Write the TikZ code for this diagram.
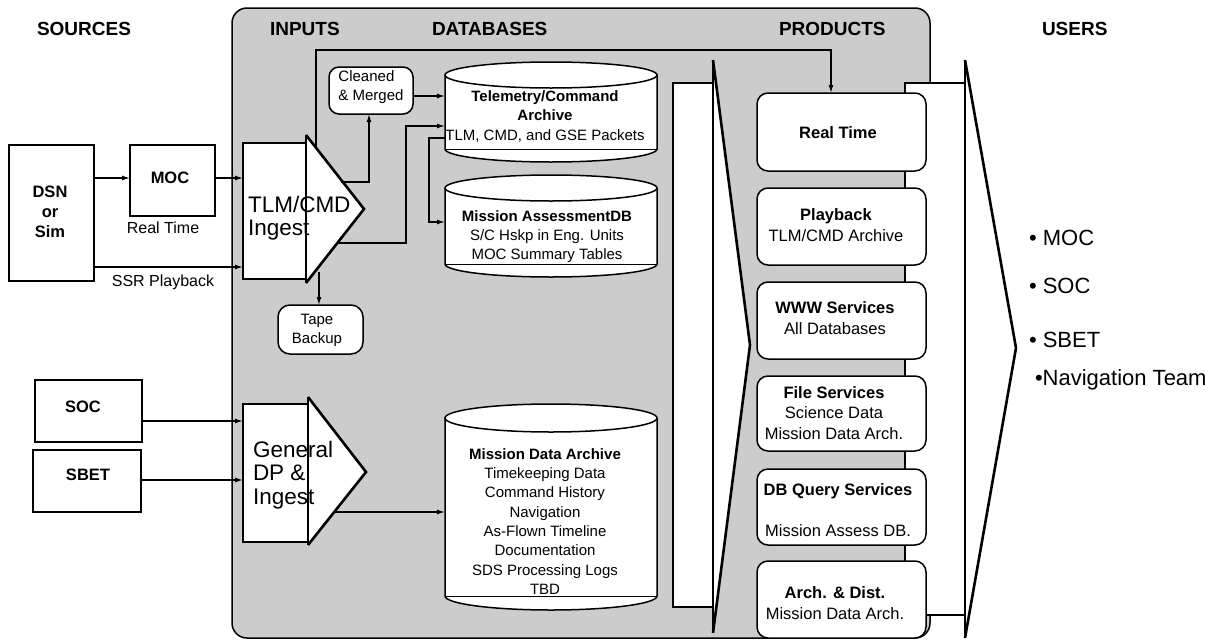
\documentclass[tikz,border=0pt]{standalone}
\usepackage{fontspec}
\setmainfont{Liberation Sans}
\usetikzlibrary{arrows.meta}
\definecolor{panelgray}{RGB}{204,204,204}
\newcommand{\cylshape}[5]{%
  \pgfmathsetmacro{\cylrx}{(#2-#1)/2}%
  \pgfmathsetmacro{\cylcx}{(#1+#2)/2}%
  \fill[white] (#1,#3) -- (#1,#4) arc[start angle=180,end angle=0,x radius=\cylrx,y radius=#5] -- (#2,#3) arc[start angle=0,end angle=-180,x radius=\cylrx,y radius=#5] -- cycle;
  \draw[line width=1.5pt] (#1,#3) -- (#1,#4) arc[start angle=180,end angle=0,x radius=\cylrx,y radius=#5] -- (#2,#3);
  \draw[line width=1.5pt] (\cylcx,#3) ellipse[x radius=\cylrx,y radius=#5];
  \draw[line width=1pt] (#1,#4) -- (#2,#4);
}
\begin{document}
\begin{tikzpicture}[x=1pt,y=-1pt,
  every node/.style={inner sep=0pt, outer sep=0pt},
  sbox/.style={draw, line width=1.5pt, fill=white},
  rbox/.style={draw, line width=1.5pt, fill=white, rounded corners=11pt},
  conn/.style={line width=1.3pt, -{Latex[length=8pt,width=5pt]}},
  hdr/.style={font=\fontsize{19}{23}\selectfont\bfseries, anchor=base west},
  lbl/.style={font=\fontsize{16}{20}\selectfont},
  blbl/.style={font=\fontsize{16.5}{20}\selectfont\bfseries, align=center},
  smtxt/.style={font=\fontsize{15}{19}\selectfont},
  dbtxt/.style={font=\fontsize{15}{19.3}\selectfont, align=center},
  prod/.style={font=\fontsize{16.5}{20.5}\selectfont, align=center},
  big/.style={font=\fontsize{22.5}{24}\selectfont, anchor=base west},
  user/.style={font=\fontsize{22}{26}\selectfont, anchor=base west},
  fatedge/.style={line width=2.6pt, line join=miter},
  thinedge/.style={line width=1.2pt},
]
\useasboundingbox (0,0) rectangle (1223,643);

% panel
\node[draw, fill=panelgray, line width=1.5pt, rounded corners=15pt, minimum width=698, minimum height=630] (panel) at (581,323) {};

% headers
\node[hdr] (hSrc) at (37,35) {SOURCES};
\node[hdr] (hIn) at (270,35) {INPUTS};
\node[hdr] (hDb) at (432,35) {DATABASES};
\node[hdr] (hPr) at (779,35) {PRODUCTS};
\node[hdr] (hUs) at (1042,35) {USERS};

% big arrow databases -> products
\fill[white] (673,83) rectangle (713,607);
\fill[white] (713,60) -- (750,345) -- (713,633) -- cycle;
\draw[thinedge] (713,83) -- (673,83) -- (673,607) -- (713,607);
\draw[thinedge] (713,60) -- (713,633);
\draw[fatedge] (713,60) -- (750,345) -- (713,633);

% big arrow products -> users
\fill[white] (905,83) rectangle (965,615);
\fill[white] (965,60) -- (1016,348) -- (965,638) -- cycle;
\draw[thinedge] (965,83) -- (905,83) -- (905,615) -- (965,615);
\draw[thinedge] (965,60) -- (965,638);
\draw[fatedge] (965,60) -- (1016,348) -- (965,638);

% products
\node[rbox, minimum width=169, minimum height=78] (rt) at (841.5,132) {};
\node[prod, font=\fontsize{16.5}{20.5}\selectfont\bfseries] (rtT) at (838,133) {Real Time};
\node[rbox, minimum width=169, minimum height=77] (pb) at (841.5,226.5) {};
\node[prod] (pbT) at (836,225) {\textbf{Playback}\\TLM/CMD Archive};
\node[rbox, minimum width=169, minimum height=77] (www) at (841.5,320.5) {};
\node[prod] (wwwT) at (835,318) {\textbf{WWW Services}\\All Databases};
\node[rbox, minimum width=169, minimum height=75] (fs) at (841.5,413.5) {};
\node[prod] (fsT) at (834,413) {\textbf{File Services}\\Science Data\\Mission Data Arch.};
\node[rbox, minimum width=169, minimum height=76] (dq) at (841.5,507) {};
\node[prod] (dqT) at (838,510) {\textbf{DB Query Services}\\[20.5pt]Mission Assess DB.};
\node[rbox, minimum width=169, minimum height=77] (ad) at (841.5,599.5) {};
\node[prod] (adT) at (835,603) {\textbf{Arch. \& Dist.}\\Mission Data Arch.};

% databases
\cylshape{445}{657}{75}{149}{13}
\node[minimum width=212, minimum height=100] (tca) at (551,112) {};
\node[dbtxt] (tcaT) at (545,116.5) {\textbf{Telemetry/Command}\\\textbf{Archive}\\TLM, CMD, and GSE Packets};
\cylshape{445}{657}{188}{264}{13}
\node[minimum width=212, minimum height=103] (ma) at (551,226.5) {};
\node[dbtxt] (maT) at (547,236.5) {\textbf{Mission AssessmentDB}\\S/C Hskp in Eng. Units\\MOC Summary Tables};
\cylshape{445}{657}{418}{596}{14}
\node[minimum width=212, minimum height=206] (mda) at (551,507) {};
\node[dbtxt] (mdaT) at (545,521.5) {\textbf{Mission Data Archive}\\Timekeeping Data\\Command History\\Navigation\\As-Flown Timeline\\Documentation\\SDS Processing Logs\\TBD};

% cleaned & merged, tape backup
\node[rbox, rounded corners=10pt, minimum width=84, minimum height=47] (cm) at (371,90.5) {};
\node[smtxt, align=left] (cmT) at (371,87) {Cleaned\\\& Merged};
\node[rbox, rounded corners=12pt, minimum width=85, minimum height=49] (tape) at (320.5,329.5) {};
\node[smtxt, align=center] (tapeT) at (317,330) {Tape\\Backup};

% TLM/CMD ingest
\node[sbox, minimum width=63, minimum height=136] (ing) at (274.5,211) {};
\coordinate (ingA) at (306,135);
\coordinate (ingTip) at (364,209);
\coordinate (ingB) at (306,283);
\fill[white] (ingA) -- (ingTip) -- (ingB) -- cycle;
\node[big] (ingL1) at (248,212) {TLM/CMD};
\node[big] (ingL2) at (248,235) {Ingest};
\draw[line width=1.8pt] (ingA) -- (ingB);
\draw[fatedge] (ingA) -- (ingTip) -- (ingB);

% General DP & Ingest
\node[sbox, minimum width=65, minimum height=138] (gdp) at (275.5,473) {};
\coordinate (gdpA) at (308,397);
\coordinate (gdpTip) at (366,472);
\coordinate (gdpB) at (308,545);
\fill[white] (gdpA) -- (gdpTip) -- (gdpB) -- cycle;
\node[big] (gdpL1) at (253,457) {General};
\node[big] (gdpL2) at (253,480) {DP \&};
\node[big] (gdpL3) at (253,504) {Ingest};
\draw[line width=1.8pt] (gdpA) -- (gdpB);
\draw[fatedge] (gdpA) -- (gdpTip) -- (gdpB);

% sources
\node[sbox, minimum width=85, minimum height=136] (dsn) at (51.5,213) {};
\node[blbl] (dsnT) at (50,212) {DSN\\or\\Sim};
\node[sbox, minimum width=85, minimum height=71] (moc) at (172.5,180.5) {};
\node[blbl] (mocT) at (170,178) {MOC};
\node[lbl] (rtl) at (163,228) {Real Time};
\node[lbl] (ssr) at (163,282) {SSR Playback};
\node[sbox, minimum width=107, minimum height=62] (soc) at (88.5,411) {};
\node[blbl] (socT) at (83,407) {SOC};
\node[sbox, minimum width=108, minimum height=62] (sbet) at (87,481) {};
\node[blbl] (sbetT) at (88,475) {SBET};

% connectors: sources -> inputs
\draw[conn] (dsn.east |- 0,178) -- (moc.west |- 0,178);
\draw[conn] (moc.east |- 0,178) -- (ing.west |- 0,178);
\draw[conn] (dsn.east |- 0,267) -- (ing.west |- 0,267);
\draw[conn] (soc.east |- 0,421) -- (gdp.west |- 0,421);
\draw[conn] (sbet.east |- 0,480) -- (gdp.west |- 0,480);

% connectors: inputs -> databases / products
\coordinate (ingUp) at (316,148);
\draw[conn] (ingUp) -- (316,50) -| ([xshift=-10.5pt]rt.north);
\coordinate (ingCm) at (341,182);
\draw[conn] (ingCm) -| ([xshift=-2pt]cm.south);
\draw[conn] (cm.east |- 0,96) -- (tca.west |- 0,96);
\coordinate (ingTc) at (337,243);
\draw[conn] (ingTc) -| (406,126) -- (tca.west |- 0,126);
\draw[conn] (tca.west |- 0,138) -| (429,222) -- (ma.west |- 0,222);
\coordinate (ingTp) at (319,272);
\draw[conn] (ingTp) -- (tape.north -| ingTp);
\coordinate (gdpOut) at (334,512);
\draw[conn] (gdpOut) -- (mda.west |- gdpOut);

% users
\node[user] (u1) at (1029,245) {• MOC};
\node[user] (u2) at (1029,293) {• SOC};
\node[user] (u3) at (1029,347) {• SBET};
\node[user] (u4) at (1035,385) {•Navigation Team};
\end{tikzpicture}
\end{document}
